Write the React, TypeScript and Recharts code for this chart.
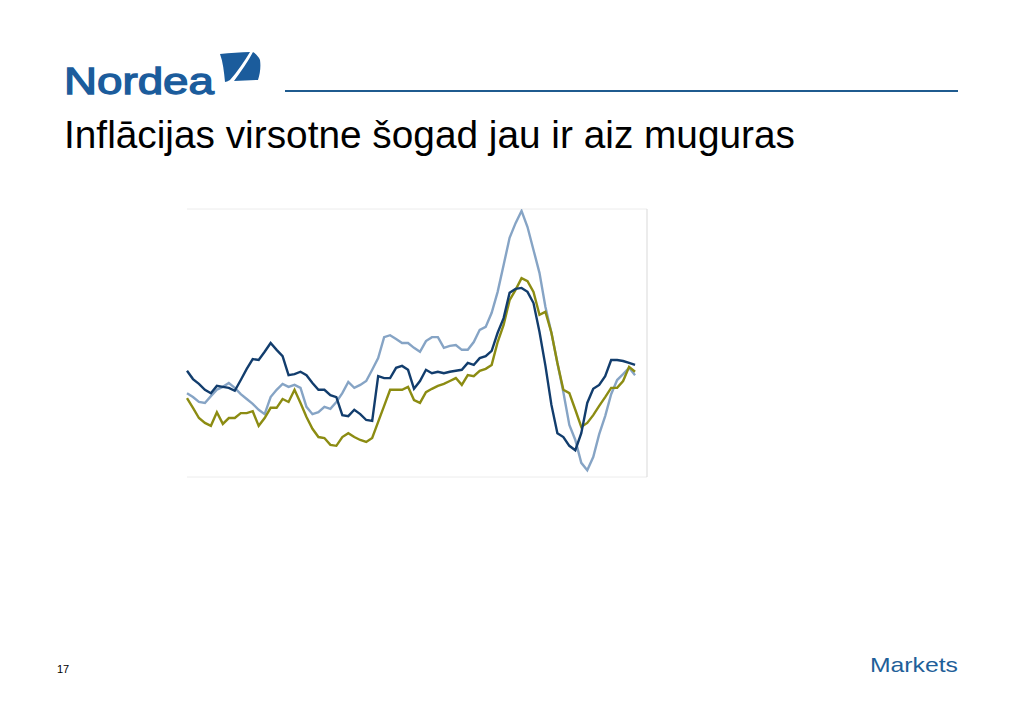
import React from "react";
import { LineChart, Line, XAxis, YAxis, CartesianGrid, ReferenceLine } from "recharts";

const months: number[] = [
  0, 2, 4, 6, 8, 10, 12, 14, 16, 18, 20, 22, 24, 26, 28, 30, 32, 34, 36, 38,
  40, 42, 44, 46, 48, 50, 52, 54, 56, 58, 60, 62, 64, 66, 68, 70, 72, 74, 76, 78,
  80, 82, 84, 86, 88, 90, 92, 94, 96, 98, 100, 102, 104, 106, 108, 110, 112, 114, 116, 118,
  120, 122, 124, 126, 128, 130, 132, 134, 136, 138, 140, 142, 144, 146, 148, 150,
];

const seriesNavy: number[] = [
  0.68, 0.51, 0.41, 0.29, 0.22, 0.37, 0.35, 0.33, 0.27, 0.49, 0.72, 0.92, 0.9, 1.07, 1.25, 1.11, 0.98, 0.59, 0.61, 0.66,
  0.59, 0.43, 0.29, 0.29, 0.18, 0.14, -0.23, -0.25, -0.12, -0.21, -0.33, -0.35, 0.57, 0.53, 0.53, 0.74, 0.78, 0.7, 0.31, 0.47,
  0.7, 0.63, 0.66, 0.63, 0.66, 0.68, 0.7, 0.84, 0.8, 0.94, 0.98, 1.09, 1.46, 1.76, 2.28, 2.36, 2.38, 2.3, 2.07, 1.48,
  0.78, -0.02, -0.6, -0.68, -0.86, -0.95, -0.6, 0.02, 0.31, 0.39, 0.57, 0.9, 0.9, 0.88, 0.84, 0.8,
];

const seriesLightBlue: number[] = [
  0.22, 0.14, 0.04, 0.02, 0.16, 0.29, 0.35, 0.43, 0.33, 0.2, 0.1, 0.0, -0.12, -0.21, 0.14, 0.29, 0.41, 0.35, 0.39, 0.33,
  -0.06, -0.21, -0.17, -0.06, -0.1, 0.04, 0.22, 0.45, 0.33, 0.39, 0.47, 0.7, 0.94, 1.37, 1.41, 1.33, 1.25, 1.25, 1.15, 1.07,
  1.29, 1.37, 1.37, 1.15, 1.19, 1.21, 1.11, 1.11, 1.27, 1.52, 1.58, 1.87, 2.3, 2.85, 3.41, 3.71, 3.96, 3.63, 3.16, 2.69,
  1.99, 1.46, 0.84, 0.24, -0.43, -0.74, -1.21, -1.36, -1.09, -0.62, -0.25, 0.2, 0.49, 0.61, 0.74, 0.59,
];

const seriesOlive: number[] = [
  0.12, -0.08, -0.29, -0.39, -0.45, -0.17, -0.41, -0.29, -0.29, -0.19, -0.19, -0.15, -0.45, -0.29, -0.08, -0.08, 0.1, 0.04, 0.29, 0.02,
  -0.27, -0.51, -0.68, -0.7, -0.84, -0.86, -0.68, -0.6, -0.68, -0.74, -0.78, -0.7, -0.37, -0.04, 0.29, 0.29, 0.29, 0.35, 0.08, 0.02,
  0.24, 0.31, 0.37, 0.41, 0.47, 0.53, 0.39, 0.59, 0.57, 0.68, 0.72, 0.8, 1.27, 1.62, 2.13, 2.34, 2.58, 2.52, 2.3, 1.83,
  1.89, 1.46, 0.84, 0.29, 0.22, -0.12, -0.47, -0.39, -0.23, -0.04, 0.14, 0.33, 0.33, 0.47, 0.76, 0.66,
];

const yTicks: number[] = [-1.5, -1, -0.5, 0, 0.5, 1, 1.5, 2, 2.5, 3, 3.5, 4];
const xTicks: number[] = [0, 12, 24, 36, 48, 60, 72, 84, 96, 108, 120, 132, 144];

const data = months.map((m, i) => ({
  m,
  navy: seriesNavy[i],
  light: seriesLightBlue[i],
  olive: seriesOlive[i],
}));

const FONT = "Arial, 'Liberation Sans', Helvetica, sans-serif";
const BLUE = "#1b5c9c";

export default function App() {
  return (
    <div style={{ position: "absolute", left: 0, top: 0, width: 1024, height: 724, background: "#fff", overflow: "hidden" }}>
      <svg width={1024} height={724} style={{ position: "absolute", left: 0, top: 0 }}>
        <text
          x={64}
          y={94}
          fontFamily={FONT}
          fontSize={37}
          fill={BLUE}
          stroke={BLUE}
          strokeWidth={1.3}
          textLength={150}
          lengthAdjust="spacingAndGlyphs"
        >
          Nordea
        </text>
        <path d="M220,54 C230,53 241,52 250,52 C244,62 237,72 230,80 C228,81 226,82 225,82 C224,72 223,62 220,54 Z" fill={BLUE} />
        <path d="M253,52 C256,54 259,57 260,60 C261,67 260,74 258,80 C250,80 242,81 234,81 C241,71 248,62 253,52 Z" fill={BLUE} />
        <line x1={285} y1={91} x2={958} y2={91} stroke="#1f5b8f" strokeWidth={2} />
        <text x={64} y={148} fontFamily={FONT} fontSize={38} fill="#000" textLength={731} lengthAdjust="spacingAndGlyphs">
          Inflācijas virsotne šogad jau ir aiz muguras
        </text>
        <text x={57} y={673} fontFamily={FONT} fontSize={11} fill="#000">
          17
        </text>
        <text x={870} y={672} fontFamily={FONT} fontSize={21} fill="#1f5f99" textLength={88} lengthAdjust="spacingAndGlyphs">
          Markets
        </text>
      </svg>
      <div style={{ position: "absolute", left: 150, top: 190 }}>
        <LineChart
          width={550}
          height={320}
          data={data}
          margin={{ top: 19, right: 53, bottom: 33, left: 37 }}
        >
          <CartesianGrid vertical={false} stroke="#ececec" strokeWidth={1} />
          <XAxis
            dataKey="m"
            type="number"
            domain={[0, 154]}
            ticks={xTicks}
            height={0}
            tick={false}
            axisLine={{ stroke: "#d9d9d9" }}
            tickLine={{ stroke: "#d9d9d9" }}
            tickSize={4}
          />
          <YAxis
            domain={[-1.5, 4]}
            ticks={yTicks}
            width={0}
            tick={false}
            axisLine={{ stroke: "#d9d9d9" }}
            tickLine={{ stroke: "#e3e3e3" }}
            tickSize={4}
            allowDataOverflow
          />
          <ReferenceLine x={154} stroke="#d9d9d9" />
          <Line type="linear" dataKey="light" stroke="#86a4c5" strokeWidth={2.4} dot={false} isAnimationActive={false} />
          <Line type="linear" dataKey="olive" stroke="#8c8c12" strokeWidth={2.4} dot={false} isAnimationActive={false} />
          <Line type="linear" dataKey="navy" stroke="#123d6d" strokeWidth={2.4} dot={false} isAnimationActive={false} />
        </LineChart>
      </div>
    </div>
  );
}
